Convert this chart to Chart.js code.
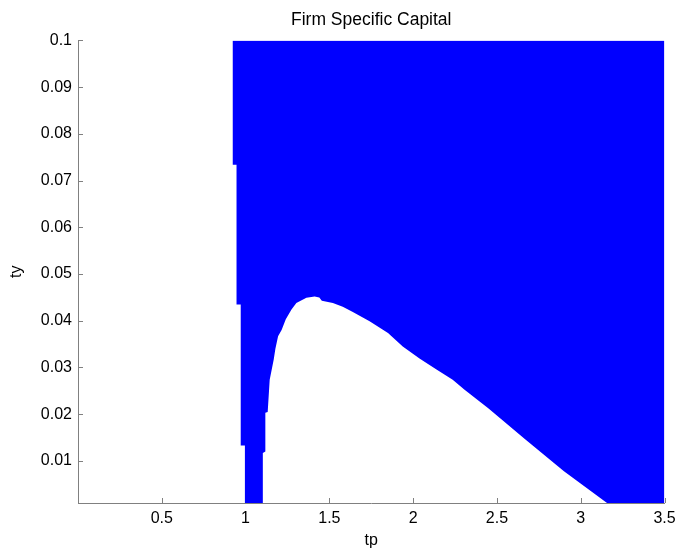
<!DOCTYPE html>
<html>
<head>
<meta charset="utf-8">
<script src="https://cdn.jsdelivr.net/npm/chart.js@4.4.0/dist/chart.umd.min.js"></script>
<style>
  html, body { margin: 0; padding: 0; background: #fff; }
  #wrap { width: 678px; height: 550px; }
</style>
</head>
<body>
<div id="wrap"><canvas id="chart" width="678" height="550"></canvas></div>
<script>
// lower edge of the blue region (tp, ty); the region runs up to ty = 0.1
const edgeTp = [0.922, 0.946, 0.946, 0.971, 0.971, 0.996, 0.996, 1.103, 1.103, 1.118, 1.118, 1.132,
  1.144, 1.168, 1.178, 1.194, 1.215, 1.240, 1.274, 1.303, 1.363, 1.412, 1.440, 1.455, 1.521, 1.580,
  1.640, 1.740, 1.850, 1.938, 2.038, 2.137, 2.236, 2.305, 2.450, 2.670, 2.900, 3.157, 3.500];
const edgeTy = [0.0734, 0.0734, 0.0435, 0.0435, 0.0133, 0.0133, 0.001, 0.001, 0.0117, 0.012, 0.0203, 0.0205,
  0.0274, 0.0317, 0.034, 0.0367, 0.038, 0.0403, 0.0424, 0.0438, 0.0449, 0.0452, 0.045, 0.0443, 0.0438, 0.043,
  0.0419, 0.0399, 0.0374, 0.0345, 0.0319, 0.0296, 0.0274, 0.0253, 0.0212, 0.0146, 0.0078, 0.001, 0.001];

const xTicks = [0.5, 1, 1.5, 2, 2.5, 3, 3.5];
const xTickLabels = ['0.5', '1', '1.5', '2', '2.5', '3', '3.5'];
const yTicks = [0.01, 0.02, 0.03, 0.04, 0.05, 0.06, 0.07, 0.08, 0.09, 0.1];
const yTickLabels = ['0.01', '0.02', '0.03', '0.04', '0.05', '0.06', '0.07', '0.08', '0.09', '0.1'];

const FONT = "'Liberation Sans', Arial, Helvetica, sans-serif";
const AXIS = '#808080';

// matlab-style tick marks pointing into the plot
const innerTicks = {
  id: 'innerTicks',
  beforeDatasetsDraw(chart) {
    const { ctx, chartArea: a, scales: { x, y } } = chart;
    ctx.save();
    ctx.strokeStyle = AXIS;
    ctx.lineWidth = 1;
    ctx.beginPath();
    x.ticks.forEach(t => {
      const px = Math.round(x.getPixelForValue(t.value)) + 0.5;
      ctx.moveTo(px, a.bottom);
      ctx.lineTo(px, a.bottom - 5);
    });
    y.ticks.forEach(t => {
      const py = Math.round(y.getPixelForValue(t.value)) + 0.5;
      ctx.moveTo(a.left, py);
      ctx.lineTo(a.left + 5, py);
    });
    ctx.stroke();
    ctx.restore();
  }
};

new Chart(document.getElementById('chart'), {
  type: 'scatter',
  data: {
    datasets: [{
      data: edgeTp.map((v, i) => ({ x: v, y: edgeTy[i] })),
      showLine: true,
      fill: 'end',
      backgroundColor: '#0000ff',
      borderColor: '#0000ff',
      borderWidth: 0,
      pointRadius: 0,
      tension: 0,
    }],
  },
  options: {
    responsive: false,
    animation: false,
    layout: { padding: { left: 0, right: 13.5, top: 0, bottom: 0 } },
    plugins: {
      legend: { display: false },
      tooltip: { enabled: false },
      title: {
        display: true,
        text: 'Firm Specific Capital',
        fullSize: false,
        color: '#000',
        font: { family: FONT, size: 17.5, weight: 'normal' },
        padding: { top: 10, bottom: 9.4 },
      },
    },
    scales: {
      x: {
        type: 'linear',
        min: 0,
        max: 3.5,
        afterBuildTicks: s => { s.ticks = xTicks.map(v => ({ value: v })); },
        afterFit: s => { s.height = 47; s.paddingRight = 0; s.paddingLeft = 0; },
        grid: { display: false, drawTicks: false },
        border: { display: true, color: AXIS, width: 1 },
        ticks: {
          color: '#000', padding: 6, maxRotation: 0, autoSkip: false,
          font: { family: FONT, size: 16 },
          callback: (v, i) => xTickLabels[i],
        },
        title: {
          display: true, text: 'tp', color: '#000',
          font: { family: FONT, size: 16 },
          padding: { top: 0, bottom: 0 },
        },
      },
      y: {
        type: 'linear',
        min: 0.001,
        max: 0.1,
        afterBuildTicks: s => { s.ticks = yTicks.map(v => ({ value: v })); },
        afterFit: s => { s.width = 78; s.paddingTop = 0; s.paddingBottom = 0; },
        grid: { display: false, drawTicks: false },
        border: { display: true, color: AXIS, width: 1 },
        ticks: {
          color: '#000', padding: 6, autoSkip: false,
          font: { family: FONT, size: 16 },
          callback: (v, i) => yTickLabels[i],
        },
        title: {
          display: true, text: 'ty', color: '#000',
          font: { family: FONT, size: 16 },
          padding: { top: 7, bottom: 0 },
        },
      },
    },
  },
  plugins: [innerTicks],
});
</script>
</body>
</html>
